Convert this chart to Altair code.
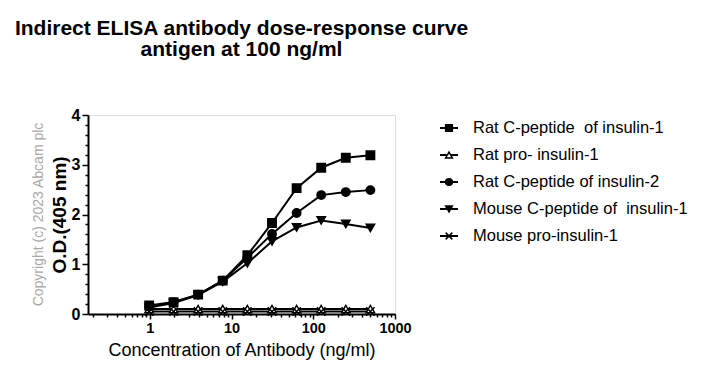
import altair as alt
import pandas as pd

# ---- data ----
conc = [0.98, 1.95, 3.9, 7.8, 15.6, 31.25, 62.5, 125, 250, 500]
series = [
    "Rat C-peptide\u00a0 of insulin-1",
    "Rat pro- insulin-1",
    "Rat C-peptide of insulin-2",
    "Mouse C-peptide of\u00a0 insulin-1",
    "Mouse pro-insulin-1",
]
rat_cpep_ins1 = [0.17, 0.24, 0.39, 0.67, 1.18, 1.83, 2.53, 2.94, 3.14, 3.19]
rat_pro_ins1 = [0.10, 0.10, 0.10, 0.10, 0.10, 0.10, 0.10, 0.10, 0.10, 0.10]
rat_cpep_ins2 = [0.15, 0.23, 0.39, 0.67, 1.13, 1.61, 2.03, 2.39, 2.45, 2.49]
mouse_cpep_ins1 = [0.13, 0.22, 0.38, 0.65, 1.02, 1.46, 1.74, 1.88, 1.81, 1.73]
mouse_pro_ins1 = [0.05, 0.05, 0.05, 0.05, 0.05, 0.05, 0.05, 0.05, 0.05, 0.05]
values = [rat_cpep_ins1, rat_pro_ins1, rat_cpep_ins2, mouse_cpep_ins1, mouse_pro_ins1]

x_major = [1, 10, 100, 1000]
x_ticks = [round(m * d, 3) for d in [0.1, 1, 10, 100] for m in range(2, 10)] + [1000]
x_ticks = sorted(set(x_ticks + x_major))
y_ticks = [round(i * 0.2, 1) for i in range(0, 21)]

shapes = ["square", "triangle-up", "circle", "triangle-down", "M-1,-1L1,1M-1,1L1,-1"]
fills = ["black", "white", "black", "black", "black"]

rows = []
for s, vals in zip(series, values):
    for c, v in zip(conc, vals):
        rows.append({"series": s, "conc": c, "od": v})
df = pd.DataFrame(rows)
leg = pd.DataFrame({"series": series})

FONT = "Liberation Sans"
W, H = 307, 199

x_major_test = " || ".join(f"datum.value == {m}" for m in x_major)

xscale = alt.Scale(type="log", domain=[0.175, 1000], nice=False)
yscale = alt.Scale(domain=[0, 4], nice=False)

xaxis = alt.Axis(
    values=x_ticks,
    labelExpr=f"({x_major_test}) ? format(datum.value, 'd') : ''",
    tickSize={"condition": {"test": x_major_test, "value": 5}, "value": 3},
    grid=False, domainColor="black", tickColor="black", domainWidth=2, tickWidth=1.5,
    labelFont=FONT, labelFontSize=14.5, labelFontWeight="bold", labelColor="black",
    labelPadding=2, labelFlush=False, labelOverlap=False,
    title="Concentration of Antibody (ng/ml)", titleFont=FONT, titleFontSize=18,
    titleFontWeight="normal", titleColor="black", titlePadding=7,
)
yaxis = alt.Axis(
    values=y_ticks,
    labelExpr="datum.value % 1 == 0 ? format(datum.value, 'd') : ''",
    tickSize={"condition": {"test": "datum.value % 1 == 0", "value": 6}, "value": 3},
    grid=False, domainColor="black", tickColor="black", domainWidth=2, tickWidth=1.5,
    labelFont=FONT, labelFontSize=16, labelFontWeight="bold", labelColor="black",
    labelPadding=2, labelOverlap=False,
    title="O.D.(405 nm)", titleFont=FONT, titleFontSize=19,
    titleFontWeight="bold", titleColor="black", titlePadding=2,
)

shape_enc = alt.Shape("series:N", scale=alt.Scale(domain=series, range=shapes), legend=None)
fill_enc = alt.Fill("series:N", scale=alt.Scale(domain=series, range=fills), legend=None)

line = alt.Chart(df).mark_line(color="black", strokeWidth=2).encode(
    x=alt.X("conc:Q", scale=xscale, axis=xaxis),
    y=alt.Y("od:Q", scale=yscale, axis=yaxis),
    detail="series:N",
)
pts = alt.Chart(df).mark_point(filled=True, stroke="black", strokeWidth=1.5, size=70, opacity=1).encode(
    x=alt.X("conc:Q", scale=xscale, axis=xaxis),
    y=alt.Y("od:Q", scale=yscale, axis=yaxis),
    shape=shape_enc,
    fill=fill_enc,
)
copyright = alt.Chart(leg).transform_filter(
    f"datum.series == '{series[0]}'"
).mark_text(
    text="Copyright (c) 2023 Abcam plc", angle=270, font=FONT, fontSize=14,
    fontWeight="normal", color="#a8a8a8", align="center", baseline="middle",
).encode(x=alt.value(-49), y=alt.value(H / 2))

data_layer = alt.layer(line, pts, copyright)

# ---- legend drawn with its own scales ----
lx = alt.Scale(domain=[0, 1], range=[352, 370])
ly = alt.Scale(type="point", domain=series, range=[13, 121], padding=0)
leg_base = alt.Chart(leg).transform_calculate(a="0", b="1", c="0.5", t="1.833")
leg_rule = leg_base.mark_rule(color="black", strokeWidth=2).encode(
    x=alt.X("a:Q", scale=lx, axis=None), x2="b:Q",
    y=alt.Y("series:N", scale=ly, axis=None),
)
leg_pt = leg_base.mark_point(filled=True, stroke="black", strokeWidth=1.5, size=45, opacity=1).encode(
    x=alt.X("c:Q", scale=lx, axis=None),
    y=alt.Y("series:N", scale=ly, axis=None),
    shape=shape_enc, fill=fill_enc,
)
leg_txt = leg_base.mark_text(align="left", baseline="middle", font=FONT, fontSize=16.5, color="black").encode(
    x=alt.X("t:Q", scale=lx, axis=None),
    y=alt.Y("series:N", scale=ly, axis=None),
    text="series:N",
)
legend_layer = alt.layer(leg_rule, leg_pt, leg_txt)

chart = alt.layer(data_layer, legend_layer).resolve_scale(
    x="independent", y="independent"
).resolve_axis(x="independent", y="independent").properties(
    width=W, height=H,
    title=alt.TitleParams(
        ["Indirect ELISA antibody dose-response curve", "antigen at 100 ng/ml"],
        font=FONT, fontSize=21, fontWeight="bold", color="black",
        anchor="middle", lineHeight=21, offset=47,
    ),
    autosize=alt.AutoSizeParams(type="none"),
    padding={"left": 80, "top": 107, "right": 298, "bottom": 64},
).configure_view(stroke=None).configure(background="white")

chart.save("out.html", embed_options={"renderer": "svg", "actions": False})
